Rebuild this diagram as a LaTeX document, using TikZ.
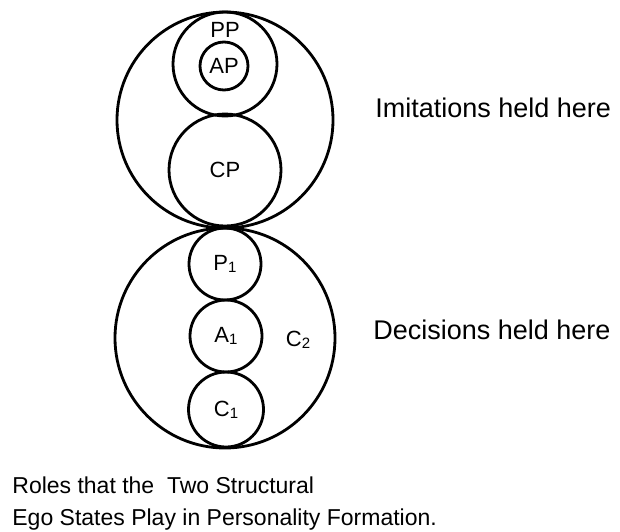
\documentclass[tikz,border=0pt]{standalone}
\usepackage{fontspec}
\setmainfont{Liberation Sans}
\usetikzlibrary{positioning}
\newcommand{\lowsub}[1]{\raisebox{-0.2ex}{\fontsize{7.5pt}{8pt}\selectfont #1}}
\tikzset{ring/.style={draw, circle, line width=1.4pt, inner sep=0pt, outer sep=0pt},
  egolabel/.style={font=\fontsize{11pt}{12pt}\selectfont, inner sep=0pt},
  sidelabel/.style={font=\fontsize{13.5pt}{15pt}\selectfont, inner sep=0pt, anchor=base west}}

\begin{document}
\begin{tikzpicture}[x=0.5pt,y=-0.5pt]
\useasboundingbox (0,0) rectangle (620,531);
% upper structure
\node[ring, minimum size=108pt] (parent) at (225,120) {};
\node[ring, minimum size=52pt] (pp) at (225,64) {};
\node[ring, minimum size=24pt, egolabel] (ap) at (224,66) {AP};
\node[ring, minimum size=56pt, egolabel] (cp) at (225,170) {CP};
\node[egolabel] (pptext) at (225,30) {PP};
% lower structure
\node[ring, minimum size=110pt] (child) at (225,338) {};
\node[ring, minimum size=36pt, egolabel] (p1) at (225,264) {P\lowsub{1}};
\node[ring, minimum size=36pt, egolabel] (a1) at (226,336) {A\lowsub{1}};
\node[ring, minimum size=37.5pt, egolabel] (c1) at (226,409.5) {C\lowsub{1}};
\node[egolabel] (c2) at (298,340) {C\lowsub{2}};
% side texts
\node[sidelabel] (imit) at (375,117) {Imitations held here};
\node[sidelabel] (decis) at (373,339) {Decisions held here};
% caption
\node[anchor=base west, align=left, inner sep=0pt, font=\fontsize{11.5pt}{16pt}\selectfont] (caption) at (12,525)
  {Roles that the\ \ Two Structural\\Ego States Play in Personality Formation.};
\end{tikzpicture}
\end{document}
